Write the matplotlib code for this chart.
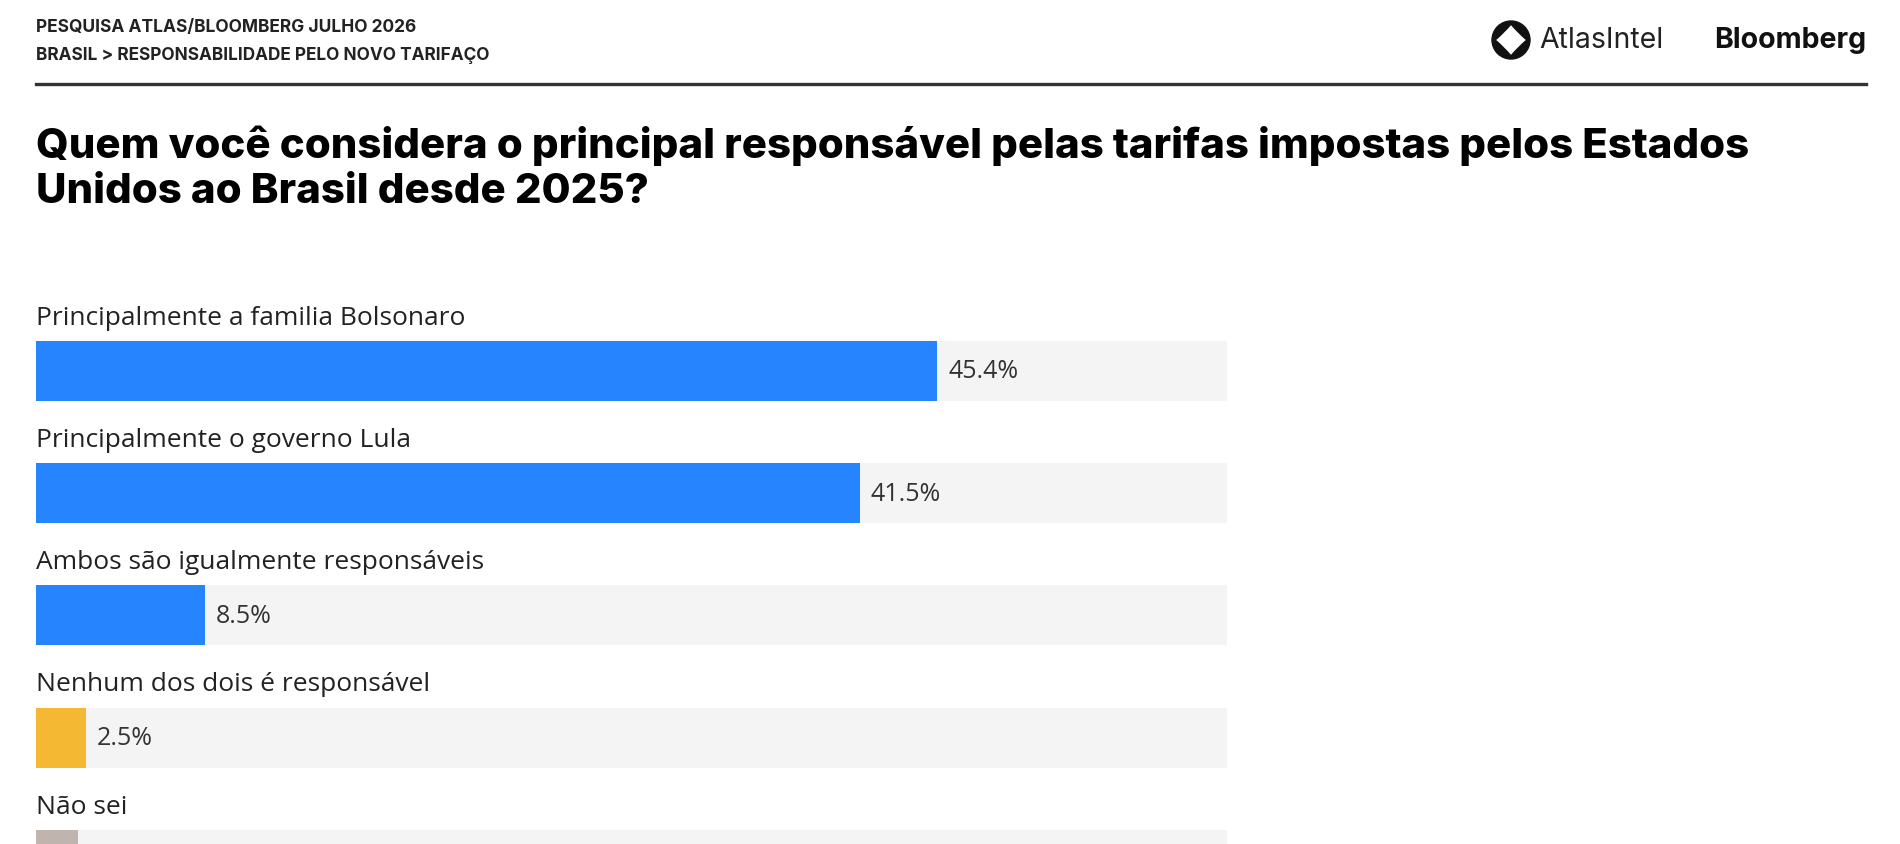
import matplotlib
matplotlib.use("Agg")
import matplotlib.pyplot as plt
from matplotlib.patches import Circle, PathPatch
from matplotlib.path import Path
import numpy as np

categories = [
    "Principalmente a familia Bolsonaro",
    "Principalmente o governo Lula",
    "Ambos são igualmente responsáveis",
    "Nenhum dos dois é responsável",
    "Não sei",
]
values = [45.4, 41.5, 8.5, 2.5, 2.1]
colors = ["#2684FF", "#2684FF", "#2684FF", "#F5B833", "#BFB5AE"]
scale_max = 60

header1 = "PESQUISA ATLAS/BLOOMBERG JULHO 2026"
header2 = "BRASIL > RESPONSABILIDADE PELO NOVO TARIFAÇO"
title = "Quem você considera o principal responsável pelas tarifas impostas pelos Estados\nUnidos ao Brasil desde 2025?"

W, H = 1900, 845
fig = plt.figure(figsize=(W / 100, H / 100), dpi=100)
fig.patch.set_facecolor("white")

def fx(x):
    return x / W

def fy(y):
    return 1 - y / H

# Header texts
fig.text(fx(36), fy(27), header1, fontsize=12.5, fontweight="bold", family="Inter",
         color="#222222", va="center", ha="left")
fig.text(fx(36), fy(55), header2, fontsize=12.4, fontweight="bold", family="Inter",
         color="#222222", va="center", ha="left")

# Rule line
fig.add_artist(plt.Line2D([fx(36), fx(1866)], [fy(85), fy(85)], color="#333333",
                          linewidth=2.4, transform=fig.transFigure))

# Logos
logo_ax = fig.add_axes([fx(1490), fy(61), fx(42), 40 / H])
logo_ax.set_xlim(-1, 1)
logo_ax.set_ylim(-1, 1)
logo_ax.set_aspect("equal")
logo_ax.axis("off")
logo_ax.add_patch(Circle((0, 0), 0.95, color="#111111"))
codes = [Path.MOVETO, Path.CURVE3, Path.CURVE3, Path.CURVE3, Path.CURVE3,
         Path.CURVE3, Path.CURVE3, Path.CURVE3, Path.CURVE3]
c = 0.34
p = 0.74
verts2 = [(0, p), (c, c), (p, 0), (c, -c), (0, -p), (-c, -c), (-p, 0), (-c, c), (0, p)]
logo_ax.add_patch(PathPatch(Path(verts2, codes), facecolor="white", edgecolor="none"))

fig.text(fx(1539), fy(41), "AtlasIntel", fontsize=20.5, family="Inter", color="#222222",
         va="center", ha="left")
fig.text(fx(1866), fy(41), "Bloomberg", fontsize=20.5, fontweight="bold", family="Inter",
         color="#111111", va="center", ha="right")

# Title
fig.text(fx(36), fy(168), title, fontsize=30.2, fontweight="heavy", family="Inter",
         color="#000000", va="center", ha="left", linespacing=1.24)

# Bars axes
pitch = 122.2
top_px = 372 - pitch
ax = fig.add_axes([fx(36), fy(top_px + 6 * pitch), fx(1227) - fx(36), 6 * pitch / H])
ax.set_xlim(0, scale_max)
ax.set_ylim(5, -1)
ax.axis("off")

y = np.arange(len(categories))
ax.barh(y, [scale_max] * len(categories), height=0.49, color="#F4F4F4", zorder=1)
ax.barh(y, values, height=0.49, color=colors, zorder=2)
for i, (cat, v) in enumerate(zip(categories, values)):
    ax.text(0, i - 0.44, cat, fontsize=19, family="Open Sans", color="#222222",
            va="center", ha="left", clip_on=False)
    ax.text(v + 0.55, i, f"{v}%", fontsize=18, family="Open Sans", color="#333333",
            va="center", ha="left")

fig.savefig("out.png", dpi=100, facecolor="white")
